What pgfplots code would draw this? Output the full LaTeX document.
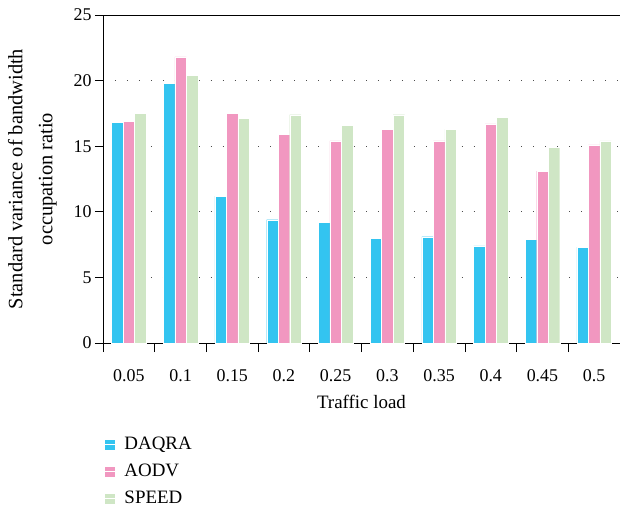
\documentclass[border=0pt]{standalone}
\usepackage{pgfplots}
\pgfplotsset{compat=1.18}
\usepackage{fontspec}
\setmainfont{Liberation Serif}
\definecolor{cDA}{HTML}{33C4F0}
\definecolor{cAO}{HTML}{F197C0}
\definecolor{cSP}{HTML}{CFE6C5}
\pgfplotsset{sqleg/.style={legend image code/.code={\fill[#1] (1bp,-4.5bp) rectangle (9.5bp,4.5bp); \path (0bp,0bp) -- (18bp,0bp);}}}
\begin{document}
\begin{tikzpicture}
\path[use as bounding box] (-103bp,-166bp) rectangle (517bp,15bp+328bp);
\begin{axis}[
  at={(0,0)}, anchor=south west,
  scale only axis, width=517bp, height=328bp,
  xmin=-0.5, xmax=9.5, ymin=0, ymax=25,
  axis x line*=bottom, axis y line*=left,
  axis line style={line width=0.8pt, -},
  xtick={0,...,9},
  xticklabels={0.05,0.1,0.15,0.2,0.25,0.3,0.35,0.4,0.45,0.5},
  minor xtick={-0.5,0.5,...,9.5},
  major x tick style={draw=none},
  minor x tick style={line width=0.8pt, black},
  minor tick length=9bp,
  ytick={0,5,...,25},
  major y tick style={line width=0.8pt, black},
  major tick length=8bp,
  tick align=outside,
  xticklabel style={yshift=-15bp},
  ymajorgrids,
  grid style={black!70, line width=0.9pt, dash pattern=on 0.9pt off 11.1pt},
  tick label style={font=\fontsize{18}{20}\selectfont},
  /pgf/number format/assume math mode=true,
  xlabel={Traffic load},
  xlabel style={font=\fontsize{19}{22}\selectfont, yshift=-7bp},
  ylabel={Standard variance of bandwidth\\occupation ratio},
  ylabel style={font=\fontsize{20.5}{30}\selectfont, align=center, yshift=10bp},
  ybar, bar width=11.5bp,
  legend style={at={(0,0)}, anchor=north west, xshift=-2bp, yshift=-90bp, draw=none, fill=none,
    font=\fontsize{19}{22}\selectfont, row sep=9bp, cells={anchor=west}},
  legend cell align=left,
]
\addplot[fill=cDA, draw=white, line width=0.3pt, bar shift=-11.5bp, sqleg=cDA] coordinates {
(0,16.8) (1,19.8) (2,11.2) (3,9.4) (4,9.2) (5,8.0) (6,8.1) (7,7.4) (8,7.9) (9,7.3)};
\addplot[fill=cAO, draw=white, line width=0.3pt, bar shift=0bp, sqleg=cAO] coordinates {
(0,16.9) (1,21.8) (2,17.5) (3,15.9) (4,15.4) (5,16.3) (6,15.4) (7,16.7) (8,13.1) (9,15.1)};
\addplot[fill=cSP, draw=white, line width=0.3pt, bar shift=11.5bp, sqleg=cSP] coordinates {
(0,17.5) (1,20.4) (2,17.1) (3,17.4) (4,16.6) (5,17.4) (6,16.3) (7,17.2) (8,14.9) (9,15.4)};
\legend{DAQRA, AODV, SPEED}
\draw[line width=0.8pt] (rel axis cs:0,1) -- (rel axis cs:1,1);
\end{axis}
\end{tikzpicture}
\end{document}
